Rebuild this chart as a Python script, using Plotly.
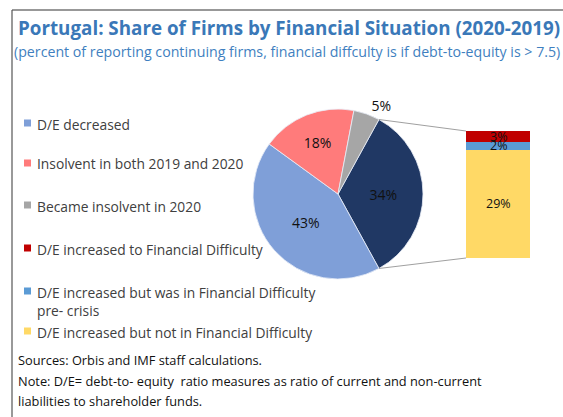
import math
import plotly.graph_objects as go

W, H = 563, 417

# ---------------- data ----------------
pie_labels = ["D/E increased", "D/E decreased", "Insolvent in both 2019 and 2020", "Became insolvent in 2020"]
pie_values = [34, 43, 18, 5]
pie_colors = ["#203864", "#7F9FD8", "#FF7B7B", "#A6A6A6"]

bar_labels = ["D/E increased but not in Financial Difficulty",
              "D/E increased but was in Financial Difficulty<br>pre- crisis",
              "D/E increased to Financial Difficulty"]
bar_values = [29, 2, 3]
bar_colors = ["#FFD966", "#5B9BD5", "#C00000"]

legend_labels = ["D/E decreased", "Insolvent in both 2019 and 2020", "Became insolvent in 2020",
                 "D/E increased to Financial Difficulty",
                 "D/E increased but was in Financial Difficulty<br>pre- crisis",
                 "D/E increased but not in Financial Difficulty"]
legend_colors = ["#7F9FD8", "#FF7B7B", "#A6A6A6", "#C00000", "#5B9BD5", "#FFD966"]

title = "Portugal: Share of Firms by Financial Situation (2020-2019)"
subtitle = "(percent of reporting continuing firms, financial diffculty is if debt-to-equity is > 7.5)"
notes = ["Sources: Orbis and IMF staff calculations.",
         "Note: D/E= debt-to- equity  ratio measures as ratio of current and non-current",
         "liabilities to shareholder funds."]

# ---------------- layout helpers (pixels -> paper) ----------------
def px(x):
    return x / W

def py(y):
    return 1 - y / H

# pie geometry
pcx, pcy, pr = 338, 194, 85
pie_dom_x = [px(pcx - pr), px(pcx + pr)]
pie_dom_y = [py(pcy + pr), py(pcy - pr)]

# rotation so that the split slice is centred at 3 o'clock
split_deg = pie_values[0] / sum(pie_values) * 360
rotation = 90 - split_deg / 2

# bar geometry
bx0, bx1, by_top, by_bot = 466, 530, 131, 258

FONT = "Open Sans"

fig = go.Figure()

fig.add_trace(go.Pie(
    labels=pie_labels, values=pie_values, sort=False, direction="clockwise",
    rotation=rotation,
    marker=dict(colors=pie_colors, line=dict(color="#E8EEF8", width=0.8)),
    texttemplate="%{value}%",
    textposition=["inside", "inside", "inside", "outside"],
    insidetextorientation="horizontal",
    textfont=dict(family=FONT, size=14, color="#111111"),
    domain=dict(x=pie_dom_x, y=pie_dom_y),
    showlegend=False, hoverinfo="label+value",
))

for lab, val, col in zip(bar_labels, bar_values, bar_colors):
    fig.add_trace(go.Bar(
        x=[0], y=[val], name=lab, marker=dict(color=col, line=dict(width=0)),
        textposition="none", showlegend=False, xaxis="x", yaxis="y",
    ))

annotations = []
cum = 0
for val in bar_values:
    annotations.append(dict(x=0, y=cum + val / 2, xref="x", yref="y", text=f"{val}%",
                            showarrow=False, font=dict(family=FONT, size=12.5, color="#111111")))
    cum += val
total_bar = cum

# title
annotations.append(dict(x=px(16), y=py(28), xref="paper", yref="paper", xanchor="left", yanchor="middle",
                        text="<b>" + title + "</b>", showarrow=False,
                        font=dict(family=FONT, size=18.8, color="#3A78B8")))
annotations.append(dict(x=px(12), y=py(51), xref="paper", yref="paper", xanchor="left", yanchor="middle",
                        text=subtitle, showarrow=False,
                        font=dict(family=FONT, size=14.2, color="#3F7FC0")))

# manual legend
shapes = []
leg_y = [123, 163, 205, 248, 291, 331]
for lab, col, yy in zip(legend_labels, legend_colors, leg_y):
    shapes.append(dict(type="rect", xref="paper", yref="paper",
                       x0=px(24), x1=px(31), y0=py(yy + 3.5), y1=py(yy - 3.5),
                       fillcolor=col, line=dict(width=0)))
    annotations.append(dict(x=px(35), y=py(yy - 10.5), xref="paper", yref="paper", xanchor="left",
                            yanchor="top", text=lab, showarrow=False, align="left",
                            font=dict(family=FONT, size=13.8, color="#404040")))

# notes
for i, t in enumerate(notes):
    annotations.append(dict(x=px(16), y=py(360 + i * 20.5), xref="paper", yref="paper", xanchor="left",
                            yanchor="middle", text=t, showarrow=False,
                            font=dict(family=FONT, size=12.8, color="#111111")))

# connector lines from split slice edges to bar corners
a0 = math.radians(rotation)
a1 = math.radians(rotation + split_deg)
p0 = (pcx + pr * math.sin(a0), pcy - pr * math.cos(a0))
p1 = (pcx + pr * math.sin(a1), pcy - pr * math.cos(a1))
shapes.append(dict(type="line", xref="paper", yref="paper", x0=px(p0[0]), y0=py(p0[1]),
                   x1=px(bx0), y1=py(by_top), line=dict(color="#A0A0A0", width=1)))
shapes.append(dict(type="line", xref="paper", yref="paper", x0=px(p1[0]), y0=py(p1[1]),
                   x1=px(bx0), y1=py(by_bot), line=dict(color="#A0A0A0", width=1)))

# frame
shapes.append(dict(type="line", xref="paper", yref="paper", x0=px(12), x1=1, y0=py(10), y1=py(10),
                   line=dict(color="#333333", width=1.2)))
shapes.append(dict(type="line", xref="paper", yref="paper", x0=px(12), x1=px(12), y0=py(10), y1=0,
                   line=dict(color="#555555", width=1.2)))

fig.update_layout(
    width=W, height=H, margin=dict(l=0, r=0, t=0, b=0),
    paper_bgcolor="white", plot_bgcolor="white",
    barmode="stack", bargap=0,
    xaxis=dict(domain=[px(bx0), px(bx1)], range=[-0.5, 0.5], visible=False, fixedrange=True),
    yaxis=dict(domain=[py(by_bot), py(by_top)], range=[0, total_bar], visible=False, fixedrange=True),
    annotations=annotations, shapes=shapes, showlegend=False,
    font=dict(family=FONT),
)

fig.write_html("out.html", config={"displayModeBar": False},
               post_script="document.body.style.margin='0';")
